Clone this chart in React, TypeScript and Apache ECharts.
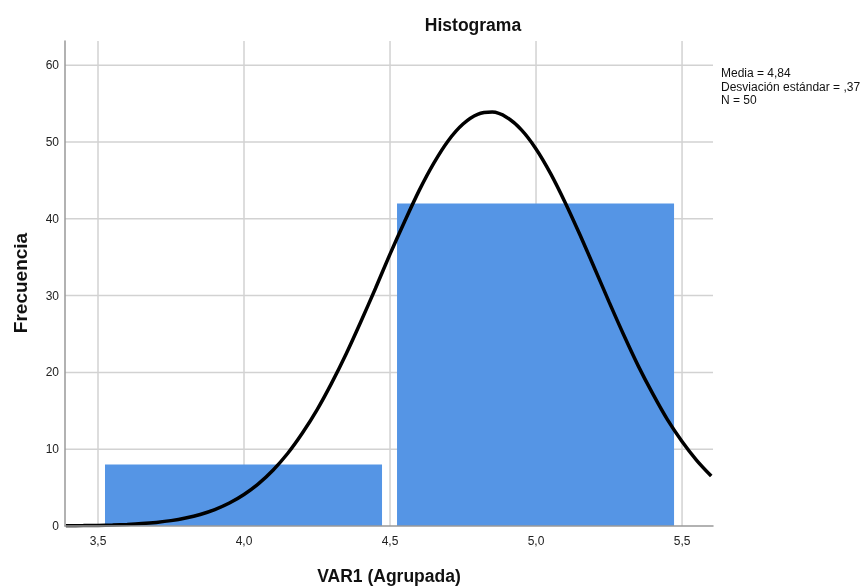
import React, { useEffect, useRef } from "react";
import * as echarts from "echarts";

const binStarts = [3.5, 4.5];
const binEnds = [4.5, 5.5];
const binCounts = [8, 42];

const curveX = [3.39, 3.45, 3.5, 3.55, 3.6, 3.65, 3.7, 3.75, 3.8, 3.85, 3.9, 3.95, 4.0, 4.05, 4.1, 4.15, 4.2, 4.25, 4.3, 4.35, 4.4, 4.45, 4.5, 4.55, 4.6, 4.65, 4.7, 4.75, 4.8, 4.85, 4.9, 4.95, 5.0, 5.05, 5.1, 5.15, 5.2, 5.25, 5.3, 5.35, 5.4, 5.45, 5.5, 5.55, 5.6];
const curveY = [0.03, 0.05, 0.08, 0.12, 0.2, 0.31, 0.47, 0.7, 1.04, 1.5, 2.14, 2.99, 4.1, 5.52, 7.3, 9.47, 12.1, 15.12, 18.6, 22.43, 26.6, 30.93, 35.4, 39.65, 43.7, 47.25, 50.2, 52.34, 53.6, 53.89, 53.2, 51.58, 49.1, 45.89, 42.1, 37.95, 33.6, 29.18, 24.9, 20.85, 17.2, 13.85, 11.0, 8.55, 6.5];

const xTicks = [3.5, 4.0, 4.5, 5.0, 5.5];
const yTicks = [0, 10, 20, 30, 40, 50, 60];

const statLines = ["Media = 4,84", "Desviación estándar = ,37", "N = 50"];

const FONT = '"Liberation Sans", Arial, sans-serif';

export default function App() {
  const ref = useRef<HTMLDivElement>(null);
  useEffect(() => {
    if (!ref.current) return;
    const chart = echarts.init(ref.current, null, { renderer: "svg" });
    const gridRows = [
      ...xTicks.map((v) => [v, 0]),
      ...yTicks.filter((v) => v > 0).map((v) => [v, 1]),
    ];
    chart.setOption({
      animation: false,
      textStyle: { fontFamily: FONT },
      grid: { left: 65, right: 152, top: 41, bottom: 60, containLabel: false, outerBoundsMode: "none" },
      xAxis: {
        type: "value",
        min: 3.387,
        max: 5.606,
        z: 4,
        axisLine: { show: true, lineStyle: { color: "#999999", width: 1.5 } },
        axisTick: { show: false },
        splitLine: { show: false },
        axisLabel: {
          customValues: xTicks,
          color: "#222",
          fontSize: 12,
          margin: 9,
          fontFamily: FONT,
          formatter: (v: number) => v.toFixed(1).replace(".", ","),
        },
      },
      yAxis: {
        type: "value",
        min: 0,
        max: 63.15,
        z: 4,
        axisLine: { show: true, lineStyle: { color: "#999999", width: 1.5 } },
        axisTick: { show: false },
        splitLine: { show: false },
        axisLabel: {
          customValues: yTicks,
          color: "#222",
          fontSize: 12,
          margin: 6,
          fontFamily: FONT,
          formatter: (v: number) => String(v),
        },
      },
      series: [
        {
          type: "custom",
          z: 1,
          silent: true,
          clip: false,
          data: gridRows,
          encode: { x: -1, y: -1 },
          renderItem: (params: any, api: any) => {
            const cs = params.coordSys;
            const v = api.value(0);
            const vertical = api.value(1) === 0;
            if (vertical) {
              const px = api.coord([v, 0])[0];
              return {
                type: "line",
                shape: { x1: px, y1: cs.y, x2: px, y2: cs.y + cs.height },
                style: { stroke: "#d2d2d2", lineWidth: 1.5 },
              };
            }
            const py = api.coord([3.5, v])[1];
            return {
              type: "line",
              shape: { x1: cs.x, y1: py, x2: cs.x + cs.width, y2: py },
              style: { stroke: "#d2d2d2", lineWidth: 1.5 },
            };
          },
        },
        {
          type: "custom",
          z: 2,
          silent: true,
          data: binStarts.map((s, i) => [s, binEnds[i], binCounts[i]]),
          renderItem: (params: any, api: any) => {
            const p0 = api.coord([api.value(0), api.value(2)]);
            const p1 = api.coord([api.value(1), 0]);
            return {
              type: "rect",
              shape: { x: p0[0] + 7, y: p0[1], width: p1[0] - p0[0] - 15, height: p1[1] - p0[1] },
              style: { fill: "#5595e5" },
            };
          },
          encode: { x: [0, 1], y: 2 },
        },
        {
          type: "line",
          z: 3,
          smooth: 0.3,
          symbol: "none",
          silent: true,
          lineStyle: { color: "#000", width: 3.5 },
          data: curveX.map((x, i) => [x, curveY[i]]),
        },
      ],
      graphic: [
        {
          type: "text",
          x: 473,
          y: 25,
          style: {
            text: "Histograma",
            fill: "#111",
            font: `bold 17.5px ${FONT}`,
            align: "center",
            verticalAlign: "middle",
          },
        },
        {
          type: "text",
          x: 20,
          y: 283,
          rotation: Math.PI / 2,
          style: {
            text: "Frecuencia",
            fill: "#111",
            font: `bold 19px ${FONT}`,
            align: "center",
            verticalAlign: "middle",
          },
        },
        {
          type: "text",
          x: 389,
          y: 576,
          style: {
            text: "VAR1 (Agrupada)",
            fill: "#111",
            font: `bold 17.5px ${FONT}`,
            align: "center",
            verticalAlign: "middle",
          },
        },
        ...statLines.map((t, i) => ({
          type: "text",
          x: 721,
          y: 73 + i * 13.5,
          style: { text: t, fill: "#111", font: `12px ${FONT}`, align: "left", verticalAlign: "middle" },
        })),
      ],
    });
    return () => chart.dispose();
  }, []);
  return <div ref={ref} style={{ position: "fixed", left: 0, top: 0, width: 865, height: 586 }} />;
}
